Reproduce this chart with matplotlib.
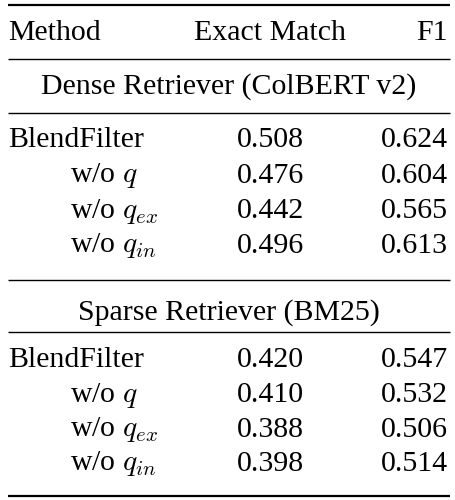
import matplotlib
matplotlib.use("Agg")
import matplotlib.pyplot as plt

# Table data
columns = ["Method", "Exact Match", "F1"]
sections = ["Dense Retriever (ColBERT v2)", "Sparse Retriever (BM25)"]
methods = ["BlendFilter", r"w/o $q$", r"w/o $q_{ex}$", r"w/o $q_{in}$"]
dense_em = [0.508, 0.476, 0.442, 0.496]
dense_f1 = [0.624, 0.604, 0.565, 0.613]
sparse_em = [0.420, 0.410, 0.388, 0.398]
sparse_f1 = [0.547, 0.532, 0.506, 0.514]

plt.rcParams['font.family'] = ['Liberation Serif', 'DejaVu Serif']
plt.rcParams['mathtext.fontset'] = 'cm'
fs = 21.5

fig = plt.figure(figsize=(4.55, 5.0), dpi=100, facecolor='w')
ax = fig.add_axes([0, 0, 1, 1])
ax.set_xlim(0, 455)
ax.set_ylim(500, 0)
ax.axis('off')

def rule(y, lw):
    ax.plot([8, 450], [y, y], color='k', lw=lw, solid_capstyle='butt')

# Header
rule(5, 1.6)
ax.text(8, 33, columns[0], fontsize=fs, ha='left', va='center')
ax.text(270, 33, columns[1], fontsize=fs, ha='center', va='center')
ax.text(448, 33, columns[2], fontsize=fs, ha='right', va='center')
rule(59, 1.0)

blocks = [(sections[0], dense_em, dense_f1, 87, 113, [140, 176, 211, 246], 280),
          (sections[1], sparse_em, sparse_f1, 313, 332, [360, 395, 430, 464], 496)]
for title, em, f1, ty, ry, rows, endy in blocks:
    ax.text(229, ty, title, fontsize=fs, ha='center', va='center')
    rule(ry, 1.0)
    for i in range(len(methods)):
        x = 8 if i == 0 else 70
        ax.text(x, rows[i], methods[i], fontsize=fs, ha='left', va='center')
        ax.text(270, rows[i], "%.3f" % em[i], fontsize=fs, ha='center', va='center')
        ax.text(448, rows[i], "%.3f" % f1[i], fontsize=fs, ha='right', va='center')
    rule(endy, 1.6 if endy > 400 else 1.0)

fig.savefig("out.png", dpi=100, facecolor='w')
